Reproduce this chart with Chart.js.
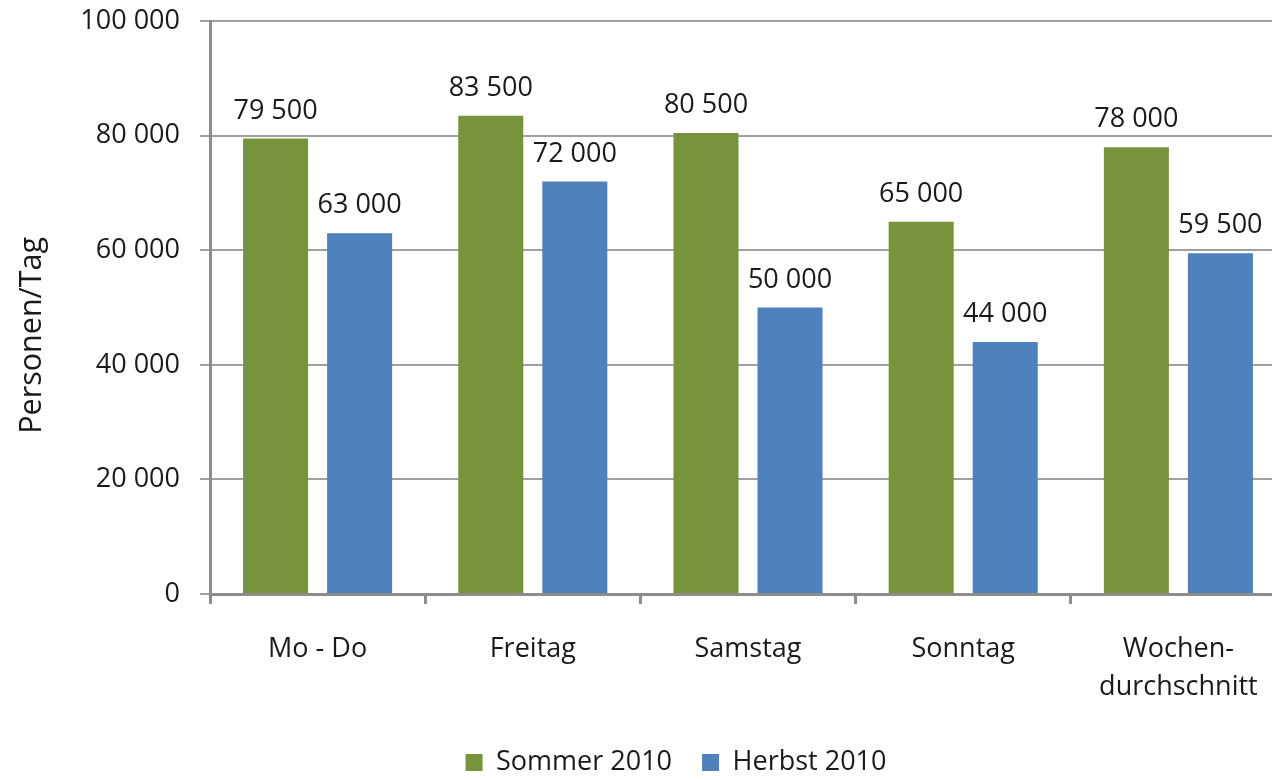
<!DOCTYPE html>
<html>
<head>
<meta charset="utf-8">
<script src="https://cdn.jsdelivr.net/npm/chart.js@4/dist/chart.umd.min.js"></script>
<style>
  html, body { margin: 0; padding: 0; overflow: hidden; background: #fff; }
  #wrap { width: 1352px; height: 801px; position: relative; margin-top: -15px; }
</style>
</head>
<body>
<div id="wrap"><canvas id="c"></canvas></div>
<script>
const categories = ['Mo - Do', 'Freitag', 'Samstag', 'Sonntag', ['Wochen-', 'durchschnitt']];
const sommer2010 = [79500, 83500, 80500, 65000, 78000];
const herbst2010 = [63000, 72000, 50000, 44000, 59500];
const yTicks = [0, 20000, 40000, 60000, 80000, 100000];
const seriesNames = ['Sommer 2010', 'Herbst 2010'];
const yTitle = 'Personen/Tag';

const FONT = "'Open Sans'";
const TEXT = '#1a1a1a';

function fmt(n) {
  return String(n).replace(/\B(?=(\d{3})+(?!\d))/g, ' ');
}

const valueLabels = {
  id: 'valueLabels',
  afterDatasetsDraw(chart) {
    const ctx = chart.ctx;
    ctx.save();
    ctx.font = '27px ' + FONT;
    ctx.fillStyle = TEXT;
    ctx.textAlign = 'center';
    ctx.textBaseline = 'alphabetic';
    chart.data.datasets.forEach((ds, i) => {
      chart.getDatasetMeta(i).data.forEach((bar, j) => {
        ctx.fillText(fmt(ds.data[j]), bar.x, bar.y - 20);
      });
    });
    ctx.restore();
  }
};

Chart.defaults.font.family = FONT;
Chart.defaults.color = TEXT;

new Chart(document.getElementById('c'), {
  type: 'bar',
  data: {
    labels: categories,
    datasets: [
      { label: seriesNames[0], data: sommer2010, backgroundColor: '#77933C',
        barPercentage: 0.774, categoryPercentage: 0.781 },
      { label: seriesNames[1], data: herbst2010, backgroundColor: '#4F81BD',
        barPercentage: 0.774, categoryPercentage: 0.781 }
    ]
  },
  options: {
    responsive: true,
    maintainAspectRatio: false,
    animation: false,
    layout: { padding: { top: 7, right: 66, left: 66, bottom: 0 } },
    plugins: {
      tooltip: { enabled: false },
      legend: {
        position: 'bottom',
        labels: {
          boxWidth: 17, boxHeight: 17, padding: 30,
          font: { size: 27 }, color: TEXT
        }
      }
    },
    scales: {
      x: {
        grid: { drawOnChartArea: false, drawTicks: true, tickLength: 10,
                color: '#8c8c8c', lineWidth: 3, offset: true },
        border: { color: '#8c8c8c', width: 3 },
        ticks: { font: { size: 27, lineHeight: 1.42 }, color: TEXT, padding: 26, maxRotation: 0 },
        afterFit(s) { s.height = 125; }
      },
      y: {
        min: 0, max: 100000,
        afterBuildTicks(s) { s.ticks = yTicks.map(v => ({ value: v })); },
        grid: { color: '#a0a0a0', lineWidth: 2, tickLength: 10 },
        border: { color: '#8c8c8c', width: 3 },
        ticks: { font: { size: 27 }, color: TEXT, padding: 20, callback: v => fmt(v) },
        title: { display: true, text: yTitle + '\u00A0\u00A0\u00A0\u00A0\u00A0\u00A0\u00A0', font: { size: 30.5 },
                 color: TEXT, padding: { top: -52, bottom: 0 } },
        afterFit(s) { s.width = 144; }
      }
    }
  },
  plugins: [valueLabels]
});
</script>
</body>
</html>
